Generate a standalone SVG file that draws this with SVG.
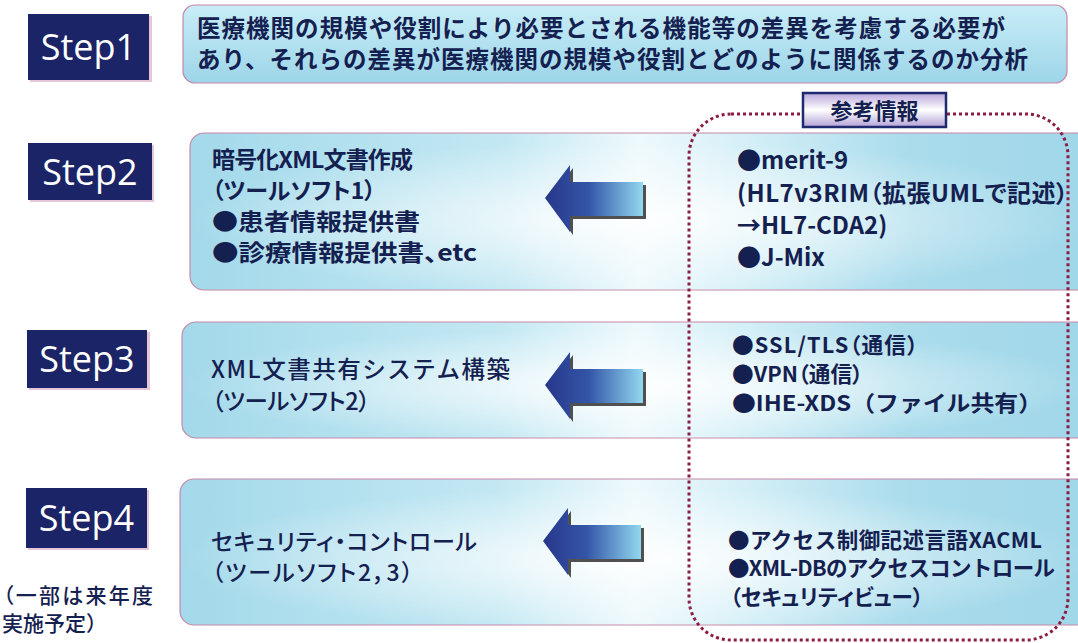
<svg xmlns="http://www.w3.org/2000/svg" width="1078" height="643" viewBox="0 0 1078 643">
<defs>
<linearGradient id="boxBase" x1="0" y1="0" x2="1" y2="0">
<stop offset="0" stop-color="#a3d9ea"/>
<stop offset="0.35" stop-color="#c3e8f3"/>
<stop offset="0.5" stop-color="#eef9fc"/>
<stop offset="0.62" stop-color="#d4eff7"/>
<stop offset="0.8" stop-color="#aadcec"/>
<stop offset="1" stop-color="#a0d7e9"/>
</linearGradient>
<radialGradient id="glow" cx="0.5" cy="0.55" r="0.5">
<stop offset="0" stop-color="#ffffff" stop-opacity="0.9"/>
<stop offset="0.6" stop-color="#ffffff" stop-opacity="0.35"/>
<stop offset="1" stop-color="#ffffff" stop-opacity="0"/>
</radialGradient>
<linearGradient id="step1Fill" x1="0" y1="0" x2="0" y2="1">
<stop offset="0" stop-color="#c8edf7"/>
<stop offset="1" stop-color="#9dd5e8"/>
</linearGradient>
<linearGradient id="arrowFill" x1="0" y1="0" x2="1" y2="0">
<stop offset="0" stop-color="#27378a"/>
<stop offset="0.45" stop-color="#3456a8"/>
<stop offset="1" stop-color="#92d8f0"/>
</linearGradient>
<linearGradient id="tagFill" x1="0" y1="0" x2="0" y2="1">
<stop offset="0" stop-color="#b9a6da"/>
<stop offset="0.5" stop-color="#ffffff"/>
<stop offset="1" stop-color="#b3a2d6"/>
</linearGradient>
<path id="arrowShape" d="M0,0 L25,-33 L25,-16 L98,-16 L98,18 L25,18 L25,34 Z"/>
</defs>
<style>
.stepbg{fill:#1b2466}
.stepsh{fill:#e6c6d8}
.steptxt{font-family:"Open Sans","Noto Sans",sans-serif;font-size:36px;fill:#ffffff}
.box{stroke:#c588a8;stroke-width:1.2}
.jp{font-family:"Noto Sans CJK JP","Noto Sans",sans-serif;fill:#14204f}
.p{font-feature-settings:"palt" 1}
.b{font-weight:700}
.m{font-weight:500}
.dots{fill:none;stroke:#8b1c44;stroke-width:3;stroke-dasharray:3 3}
.ash{fill:#505050}
.arr{fill:url(#arrowFill)}
</style>
<rect width="1078" height="643" fill="#ffffff"/>

<g id="step1">
<rect class="stepsh" x="30" y="16" width="122" height="66"/>
<rect class="stepbg" x="28" y="14" width="121" height="66"/>
<text class="steptxt" x="88.5" y="60" text-anchor="middle">Step1</text>
</g>
<g id="step1-box">
<rect class="box" x="183" y="5" width="884" height="78" rx="12" fill="url(#step1Fill)"/>
<text class="jp b" x="197" y="37" font-size="23.5" textLength="808">医療機関の規模や役割により必要とされる機能等の差異を考慮する必要が</text>
<text class="jp b" x="197" y="68" font-size="23.5" textLength="831">あり、それらの差異が医療機関の規模や役割とどのように関係するのか分析</text>
</g>

<g id="step2">
<rect class="stepsh" x="30" y="145" width="124" height="57"/>
<rect class="stepbg" x="28" y="143" width="124" height="57"/>
<text class="steptxt" x="90" y="185" text-anchor="middle">Step2</text>
</g>
<g id="step2-box">
<rect class="box" x="190" y="133" width="900" height="157" rx="14" fill="url(#boxBase)"/>
<rect x="190" y="133" width="900" height="157" rx="14" fill="url(#glow)"/>
<text class="jp b" x="212" y="168" font-size="23" textLength="201">暗号化XML文書作成</text>
<text class="jp b p" x="212" y="199" font-size="23">（ツールソフト1）</text>
<text class="jp b" x="212" y="230" font-size="23" textLength="208" lengthAdjust="spacingAndGlyphs">●患者情報提供書</text>
<text class="jp b p" x="212" y="261" font-size="23" textLength="265" lengthAdjust="spacingAndGlyphs">●診療情報提供書、etc</text>
<text class="jp b" x="737" y="169" font-size="24">●merit-9</text>
<text class="jp b p" x="737" y="201.5" font-size="24" textLength="331">(HL7v3RIM（拡張UMLで記述）</text>
<text class="jp b" x="737" y="234" font-size="24">→HL7-CDA2)</text>
<text class="jp b" x="737" y="266" font-size="24">●J-Mix</text>
</g>

<g id="step3">
<rect class="stepsh" x="29" y="332" width="121" height="58"/>
<rect class="stepbg" x="27" y="330" width="120" height="58"/>
<text class="steptxt" x="87" y="372" text-anchor="middle">Step3</text>
</g>
<g id="step3-box">
<rect class="box" x="182" y="322" width="908" height="116" rx="14" fill="url(#boxBase)"/>
<rect x="182" y="322" width="908" height="116" rx="14" fill="url(#glow)"/>
<text class="jp m" x="211" y="378" font-size="23.5" textLength="299">XML文書共有システム構築</text>
<text class="jp m p" x="212" y="410" font-size="23.5" textLength="158">（ツールソフト2）</text>
<text class="jp b p" x="732" y="353" font-size="21.7" textLength="186">●SSL/TLS（通信）</text>
<text class="jp b p" x="732" y="382" font-size="21.7" textLength="131">●VPN（通信）</text>
<text class="jp b" x="732" y="411" font-size="21.7" textLength="310" lengthAdjust="spacingAndGlyphs">●IHE-XDS（ファイル共有）</text>
</g>

<g id="step4">
<rect class="stepsh" x="28" y="490" width="121" height="60"/>
<rect class="stepbg" x="26" y="488" width="121" height="60"/>
<text class="steptxt" x="86.5" y="531" text-anchor="middle">Step4</text>
<text class="jp m p" x="3" y="603" font-size="21" textLength="150">（一部は来年度</text>
<text class="jp m" x="2" y="631" font-size="21">実施予定）</text>
</g>
<g id="step4-box">
<rect class="box" x="180" y="479" width="910" height="146" rx="14" fill="url(#boxBase)"/>
<rect x="180" y="479" width="910" height="146" rx="14" fill="url(#glow)"/>
<text class="jp m p" x="211" y="550" font-size="23" textLength="266">セキュリティ・コントロール</text>
<text class="jp m p" x="212" y="581" font-size="23" textLength="201">（ツールソフト2，3）</text>
<text class="jp b" x="728" y="547.5" font-size="21.5" textLength="314">●アクセス制御記述言語XACML</text>
<text class="jp b" x="728" y="576" font-size="21.5" textLength="327">●XML-DBのアクセスコントロール</text>
<text class="jp b p" x="730" y="604.5" font-size="21.5">（セキュリティビュー）</text>
</g>

<g id="connectors">
<use href="#arrowShape" class="ash" transform="translate(548,201)"/>
<use href="#arrowShape" class="arr" transform="translate(545,198)"/>
<use href="#arrowShape" class="ash" transform="translate(548,388)"/>
<use href="#arrowShape" class="arr" transform="translate(545,385)"/>
<use href="#arrowShape" class="ash" transform="translate(546,544)"/>
<use href="#arrowShape" class="arr" transform="translate(543,541)"/>
</g>

<g id="reference-info">
<rect class="dots" x="689" y="114" width="379" height="526" rx="42"/>
<rect x="803" y="93" width="143" height="34" fill="url(#tagFill)" stroke="#1f2a6e" stroke-width="2.5"/>
<text class="jp b" x="874.5" y="119" font-size="22" text-anchor="middle">参考情報</text>
</g>
</svg>
